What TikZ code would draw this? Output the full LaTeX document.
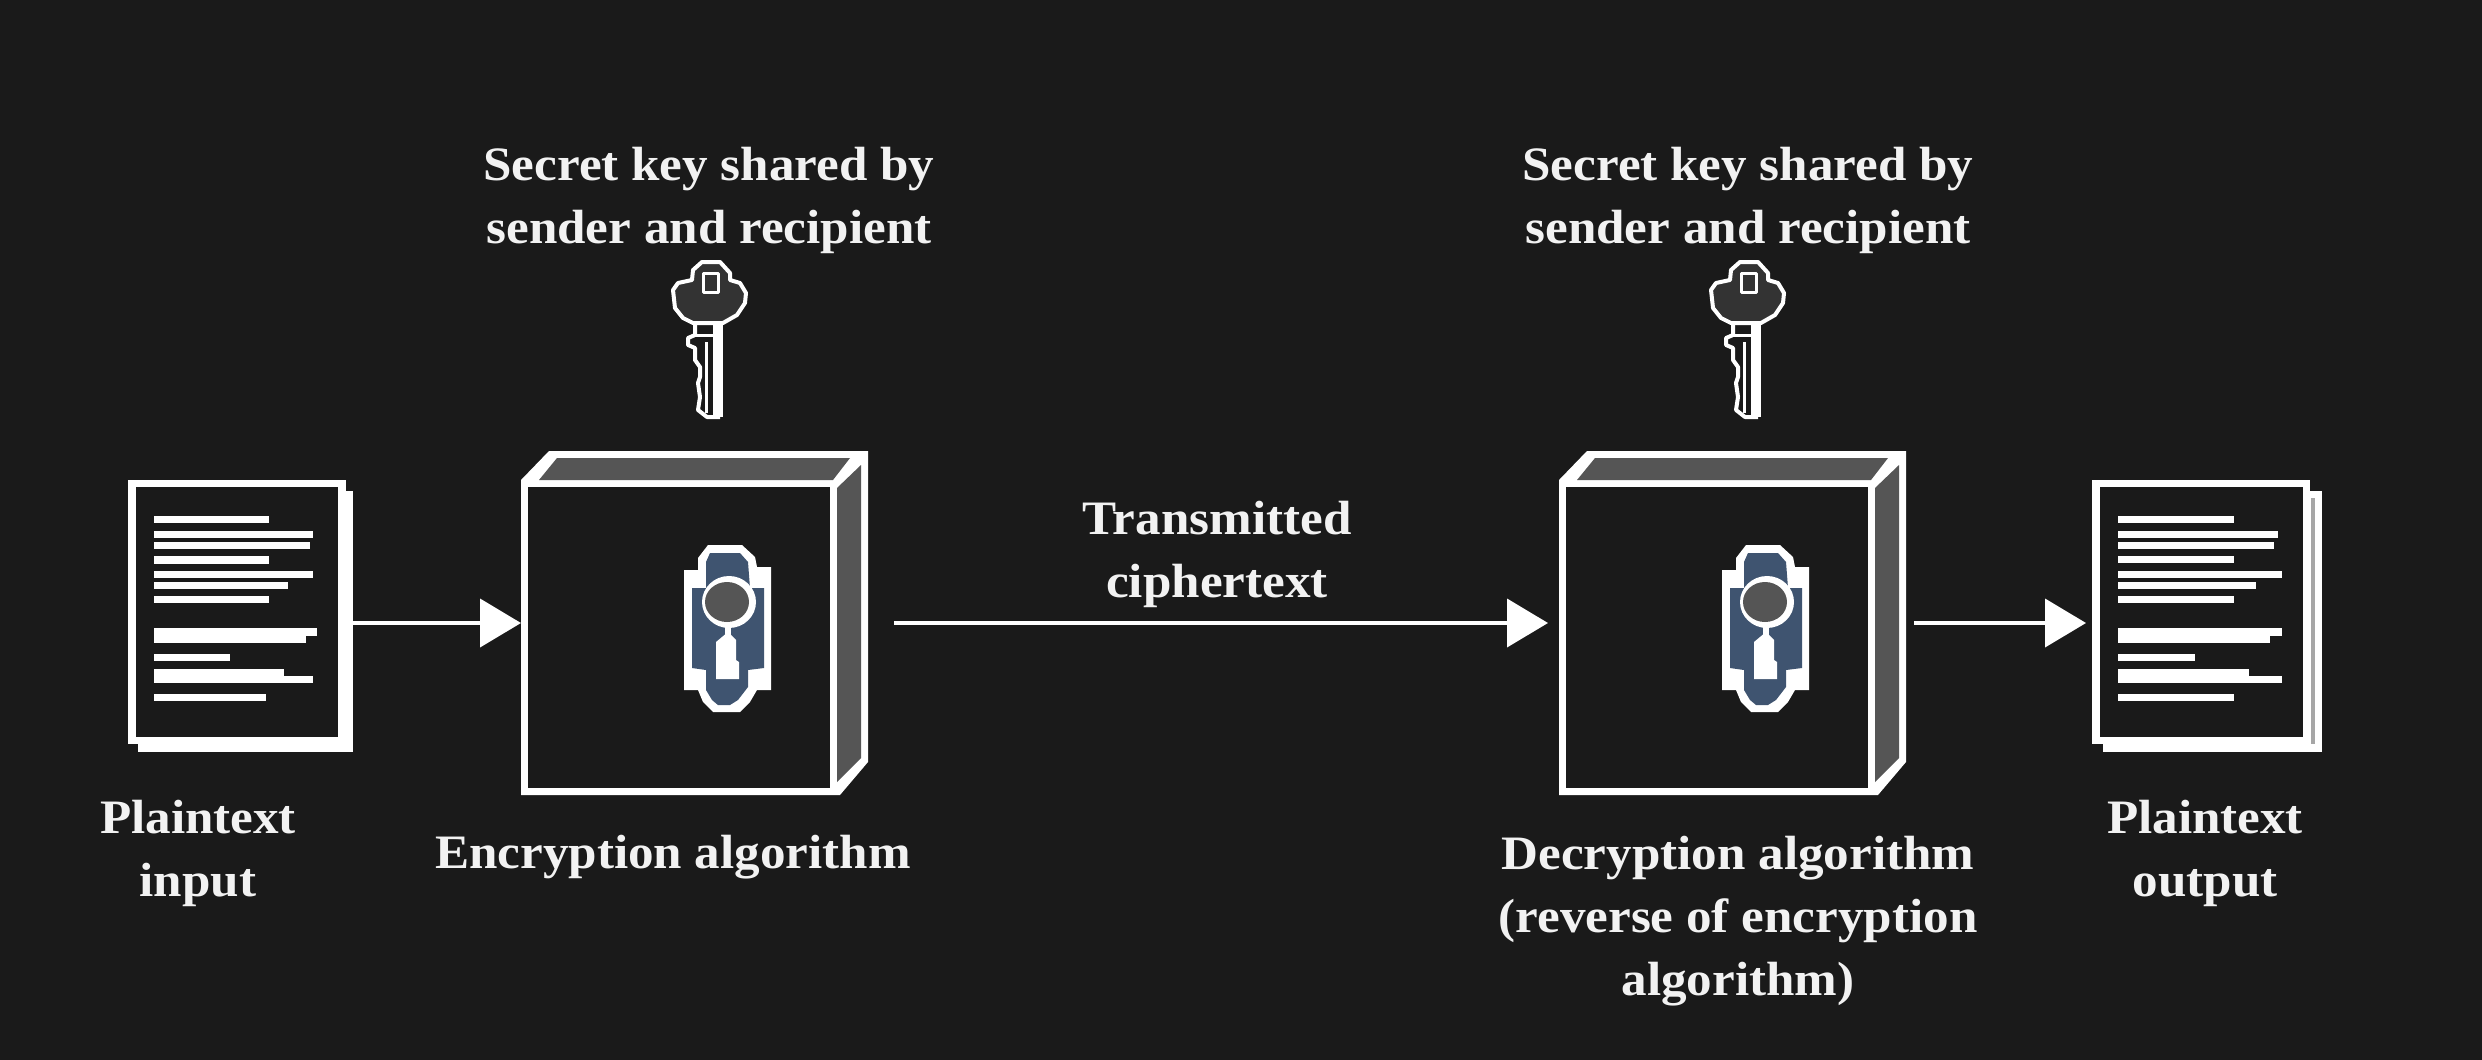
\documentclass[tikz,border=0pt]{standalone}
\usepackage{fontspec}
\setmainfont[FakeStretch=1.065]{Liberation Serif}
\usetikzlibrary{arrows.meta}
\definecolor{bgc}{HTML}{1A1A1A}
\definecolor{greyf}{HTML}{555555}
\definecolor{bluef}{HTML}{3F5470}
\definecolor{keyf}{HTML}{333333}
\definecolor{txt}{HTML}{F2F2F2}
\tikzset{
  lbl/.style={text=txt,font=\fontsize{48}{63}\selectfont\bfseries,align=center,inner sep=0pt},
  flow/.style={draw=white,line width=4pt,-{Triangle[length=41pt,width=48pt,fill=white]},shorten >=0pt},
  anchorbox/.style={inner sep=0pt,outer sep=0pt,anchor=north west,draw=none},
  keyline/.style={draw=white,line width=4pt,line join=round}
}
\newcommand{\textlines}[2]{%
  \foreach \t/\b/\r in {#2}{\fill[white] (#1,\t) rectangle (\r,\b);}%
}
\newcommand{\boxart}{%
  \fill[white] (521,480)--(549,451)--(868,451)--(868,762)--(840,795)--(521,795)--cycle;
  \fill[bgc] (528,487) rectangle (830,788);
  \fill[greyf] (539,480)--(557,458)--(850,458)--(833,480)--cycle;
  \fill[greyf] (837,488)--(861,465)--(861,758)--(837,782)--cycle;
  % escutcheon
  \fill[white] (708,545)--(742,545)--(755,557)--(757,567)--(771,567)--(771,690)--(757,690)--(750,702)--(740,712)--(713,712)--(703,702)--(698,690)--(684,690)--(684,570)--(698,570)--(698,558)--cycle;
  \fill[bluef] (710,553)--(740,553)--(748,562)--(750,588)--(764,588)--(764,668)--(748,670)--(748,687)--(738,700)--(730,705)--(718,705)--(712,700)--(706,690)--(706,670)--(692,668)--(692,588)--(706,588)--(706,562)--cycle;
  \fill[white] (729,602) ellipse [x radius=27pt,y radius=26pt];
  \fill[greyf] (727,602) ellipse [x radius=22pt,y radius=20pt];
  \fill[white] (725,626) rectangle (731,640);
  \fill[white] (728,632)--(736,640)--(736,660)--(739,662)--(739,679)--(716,679)--(716,642)--cycle;
  % key
  \filldraw[keyline,fill=keyf] (702,262)--(720,262)--(730,273)--(730,280)--(740,283)--(746,293)--(745,303)--(737,315)--(723,323)--(693,323)--(683,318)--(675,308)--(673,290)--(678,283)--(692,280)--(693,270)--cycle;
  \filldraw[keyline,line width=3pt,fill=keyf] (703,273) rectangle (718,292);
  \fill[white] (713,325) rectangle (723,417);
  \draw[keyline] (695,323)--(695,335)--(688,338)--(688,345)--(695,348)--(695,360)--(700,367)--(700,377)--(698,383)--(700,397)--(698,410)--(707,417)--(720,417);
  \draw[keyline,line width=3pt] (706,342)--(706,413);
  \draw[keyline,line width=3pt] (695,335)--(713,335);
}
\begin{document}
\begin{tikzpicture}[x=1pt,y=-1pt]
\fill[bgc] (0,0) rectangle (2482,1060);
\useasboundingbox (0,0) rectangle (2482,1060);
% invisible frames used by the connectors
\node[anchorbox,minimum width=225pt,minimum height=272pt] (doc1) at (128,480) {};
\node[anchorbox,minimum width=347pt,minimum height=344pt] (box1) at (521,451) {};
\node[anchorbox,minimum width=347pt,minimum height=344pt] (box2) at (1559,451) {};
\node[anchorbox,minimum width=230pt,minimum height=272pt] (doc2) at (2092,480) {};
\coordinate (level) at (0,623);
% input document
\fill[white] (138,491) rectangle (353,752);
\fill[white] (128,480) rectangle (346,744);
\fill[bgc] (136,487) rectangle (338,737);
\textlines{154}{516/523/269,531/538/313,542/549/310,556/564/269,571/578/313,582/589/288,596/603/269,628/636/317,636/643/306,654/661/230,669/676/284,676/683/313,694/701/266}
% output document
\fill[white] (2103,491) rectangle (2322,752);
\fill[white] (2092,480) rectangle (2310,744);
\fill[bgc] (2100,487) rectangle (2303,737);
\fill[white!65!black] (2311,498) rectangle (2315,744);
\textlines{2118}{516/523/2234,531/538/2278,542/549/2274,556/563/2234,571/578/2282,582/589/2256,596/603/2234,628/636/2282,636/643/2270,654/661/2195,669/676/2249,676/683/2282,694/701/2234}
% boxes
\boxart
\begin{scope}[shift={(1038,0)}]\boxart\end{scope}
% connectors
\draw[flow] (doc1.east |- level) -- (box1.west |- level);
\draw[flow] ([xshift=26pt]box1.east |- level) -- ([xshift=-11pt]box2.west |- level);
\draw[flow] ([xshift=8pt]box2.east |- level) -- ([xshift=-6pt]doc2.west |- level);
% labels
\node[lbl] (k1) at (709,200) {Secret key shared by\\sender and recipient};
\node[lbl] (k2) at (1748,200) {Secret key shared by\\sender and recipient};
\node[lbl] (pi) at (198,853) {Plaintext\\input};
\node[lbl] (ea) at (673,857) {Encryption algorithm};
\node[lbl] (tc) at (1217,554) {Transmitted\\ciphertext};
\node[lbl] (da) at (1738,921) {Decryption algorithm\\(reverse of encryption\\algorithm)};
\node[lbl] (po) at (2205,853) {Plaintext\\output};
\end{tikzpicture}
\end{document}
